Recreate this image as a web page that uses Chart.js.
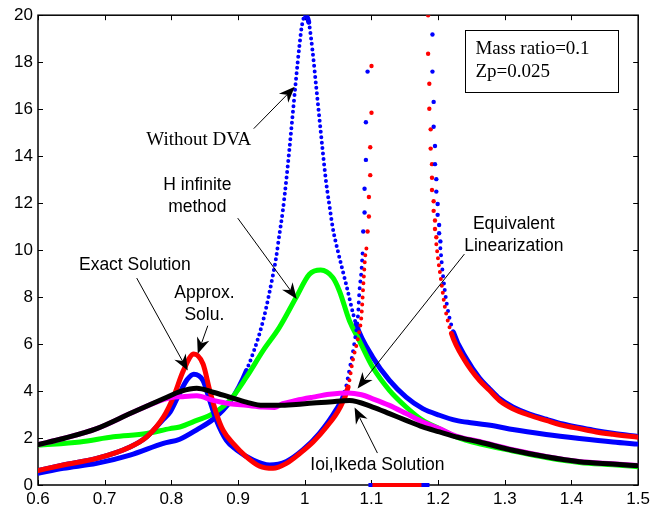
<!DOCTYPE html>
<html>
<head>
<meta charset="utf-8">
<script src="https://cdn.jsdelivr.net/npm/chart.js@4.4.0/dist/chart.umd.min.js"></script>
<style>
  html, body { margin: 0; padding: 0; background: #fff; }
  canvas { display: block; }
</style>
</head>
<body>
<canvas id="c" width="654" height="512"></canvas>
<script>
// frequency ratio (x) and amplitude (y)
const noDvaX = [0.6, 0.638, 0.688, 0.738, 0.788, 0.8126, 0.838, 0.8625, 0.8875, 0.9125, 0.9375, 0.9525, 0.957, 0.962, 0.967, 0.972, 0.977, 0.982, 0.987, 0.992, 0.996, 1.0013, 1.006, 1.012, 1.017, 1.022, 1.027, 1.032, 1.037, 1.042, 1.051, 1.062, 1.077, 1.102, 1.127, 1.152, 1.177, 1.202, 1.227, 1.252, 1.287, 1.312, 1.362, 1.412, 1.462, 1.5];
const noDvaY = [0.5, 0.71, 0.92, 1.27, 1.77, 1.95, 2.35, 2.8, 3.53, 4.87, 6.99, 8.97, 9.67, 10.67, 11.65, 12.9, 14.3, 15.8, 17.3, 18.7, 19.6, 20, 19.7, 18.4, 17.0, 15.6, 14.2, 12.9, 11.9, 10.95, 9.8, 8.55, 6.85, 5.44, 4.45, 3.74, 3.25, 2.97, 2.75, 2.64, 2.5, 2.36, 2.15, 1.98, 1.83, 1.74];

const exactX = [0.6, 0.638, 0.688, 0.738, 0.763, 0.788, 0.803, 0.818, 0.8336, 0.8475, 0.8575, 0.8675, 0.8775, 0.8925, 0.9125, 0.9325, 0.9525, 0.9725, 0.9925, 1.0125, 1.0325, 1.052, 1.065, 1.072, 1.08, 1.085, 1.088, 1.091, 1.0942, 1.14, 1.1973, 1.2, 1.205, 1.21, 1.22, 1.24, 1.262, 1.277, 1.292, 1.312, 1.337, 1.362, 1.387, 1.412, 1.437, 1.462, 1.5];
const exactY = [0.62, 0.85, 1.13, 1.62, 2.05, 2.89, 3.74, 4.87, 5.58, 5.15, 4.03, 3.04, 2.33, 1.77, 1.2, 0.8, 0.71, 0.92, 1.34, 1.83, 2.47, 3.25, 4.17, 5.3, 6.28, 7.2, 8.6, 9.84, 10.2, null, 10.25, 9.6, 8.6, 7.6, 6.45, 5.3, 4.45, 4.03, 3.6, 3.25, 2.97, 2.75, 2.54, 2.4, 2.26, 2.16, 2.03];
const exactSpikeX = [1.0942, 1.0962, 1.0962, 1.0982, 1.0982, 1.1001, 1.1001, 1.185, 1.185, 1.1868, 1.1868, 1.1888, 1.1888, 1.1908, 1.1908, 1.1908, 1.1933, 1.1933, 1.1953, 1.1953, 1.1973];
const exactSpikeY = [10.79, 11.43, 12.26, 13.19, 14.38, 15.85, 17.84, 20.0, 18.36, 17.08, 16.02, 15.14, 14.32, 13.66, 13.08, 12.56, 12.08, 11.67, 11.26, 10.9, 10.55];
const exactFloorX = [1.1015, 1.175];
const exactFloorY = [0, 0];

const approxX = [0.6, 0.638, 0.688, 0.738, 0.763, 0.788, 0.798, 0.813, 0.824, 0.8336, 0.8475, 0.8575, 0.8675, 0.8825, 0.8975, 0.9225, 0.9475, 0.9725, 0.9975, 1.022, 1.047, 1.06, 1.067, 1.075, 1.08, 1.082, 1.085, 1.087, 1.14, 1.2034, 1.207, 1.213, 1.223, 1.243, 1.262, 1.277, 1.292, 1.312, 1.337, 1.362, 1.387, 1.412, 1.437, 1.462, 1.5];
const approxY = [0.62, 0.85, 1.13, 1.62, 2.05, 2.8, 3.1, 3.95, 4.5, 4.72, 4.45, 3.6, 2.75, 1.9, 1.5, 1.06, 0.85, 1.0, 1.5, 2.2, 3.2, 3.95, 4.9, 6.14, 7.27, 8.26, 9.1, 10.0, null, 10.08, 9.0, 7.7, 6.5, 5.35, 4.55, 4.1, 3.68, 3.32, 3.02, 2.8, 2.6, 2.45, 2.31, 2.2, 2.07];
const approxSpikeX = [1.0877, 1.0897, 1.0897, 1.0917, 1.0917, 1.0942, 1.1915, 1.1915, 1.1933, 1.1933, 1.1953, 1.1953, 1.1973, 1.1973, 1.1993, 1.1993, 1.2015, 1.2015, 1.2034];
const approxSpikeY = [10.79, 11.6, 12.61, 13.84, 15.44, 17.6, 19.18, 17.6, 16.31, 15.25, 14.43, 13.66, 13.02, 12.49, 11.96, 11.5, 11.07, 10.72, 10.37];
const approxFloorX = [1.0955, 1.187];
const approxFloorY = [0, 0];

const hinfX = [0.6, 0.663, 0.713, 0.763, 0.798, 0.8126, 0.838, 0.8625, 0.8875, 0.9125, 0.9375, 0.962, 0.987, 1.007, 1.024, 1.042, 1.052, 1.067, 1.082, 1.102, 1.127, 1.152, 1.177, 1.202, 1.227, 1.262, 1.312, 1.362, 1.412, 1.462, 1.5];
const hinfY = [1.7, 1.83, 2.05, 2.19, 2.4, 2.47, 2.75, 3.04, 3.6, 4.59, 5.72, 6.71, 7.98, 8.97, 9.15, 8.83, 8.26, 6.99, 6.14, 5.01, 4.03, 3.32, 2.75, 2.4, 2.05, 1.75, 1.45, 1.17, 0.96, 0.86, 0.78];

const eqLinX = [0.6, 0.638, 0.688, 0.738, 0.775, 0.8, 0.815, 0.838, 0.8625, 0.8875, 0.9125, 0.9375, 0.955, 0.967, 0.987, 1.0125, 1.037, 1.065, 1.085, 1.102, 1.127, 1.152, 1.177, 1.202, 1.227, 1.262, 1.312, 1.362, 1.412, 1.462, 1.5];
const eqLinY = [1.72, 1.98, 2.4, 3.04, 3.5, 3.72, 3.76, 3.8, 3.6, 3.46, 3.39, 3.32, 3.3, 3.46, 3.6, 3.74, 3.86, 3.92, 3.84, 3.67, 3.39, 3.04, 2.68, 2.4, 2.08, 1.85, 1.5, 1.22, 1.0, 0.9, 0.83];

const ioiX = [0.6, 0.638, 0.688, 0.738, 0.788, 0.815, 0.838, 0.8625, 0.8875, 0.9125, 0.9375, 0.962, 0.987, 1.0125, 1.037, 1.067, 1.102, 1.127, 1.152, 1.177, 1.202, 1.227, 1.262, 1.312, 1.362, 1.412, 1.462, 1.5];
const ioiY = [1.72, 1.98, 2.4, 3.04, 3.67, 4.0, 4.12, 3.95, 3.74, 3.53, 3.39, 3.39, 3.43, 3.49, 3.53, 3.6, 3.32, 3.04, 2.75, 2.47, 2.26, 2.05, 1.83, 1.48, 1.2, 0.99, 0.89, 0.82];

const boxLines = ['Mass ratio=0.1', 'Zp=0.025'];

// text labels with arrows, placed in data coordinates
const notes = [
  { lines: ['Without DVA'], serif: true, at: [0.841, 14.7], from: [0.9235, 15.17], to: [0.985, 16.95] },
  { lines: ['H infinite', 'method'], at: [0.839, 12.75], from: [0.8995, 11.36], to: [0.988, 7.92] },
  { lines: ['Exact Solution'], at: [0.7453, 9.36], from: [0.748, 8.81], to: [0.8246, 4.87] },
  { lines: ['Approx.', 'Solu.'], at: [0.8495, 8.18], from: [0.8546, 6.78], to: [0.8396, 5.59] },
  { lines: ['Equivalent', 'Linearization'], at: [1.3135, 11.1], from: [1.2394, 9.83], to: [1.0792, 4.11] },
  { lines: ['Ioi,Ikeda Solution'], at: [1.109, 0.85], from: [1.109, 1.36], to: [1.0747, 3.3] }
];

function pts(xs, ys) {
  return xs.map((x, i) => ({ x: x, y: ys[i] }));
}

// the markers only separate into dots where the curve is steep
function curve(data, color, order, gap, ratio, fromX) {
  const steep = ctx => data[ctx.p0DataIndex].x >= fromX &&
    Math.abs(ctx.p1.y - ctx.p0.y) > ratio * Math.abs(ctx.p1.x - ctx.p0.x);
  return {
    data: data,
    borderColor: color,
    backgroundColor: color,
    borderWidth: 5,
    borderCapStyle: 'round',
    borderJoinStyle: 'round',
    pointRadius: 0,
    cubicInterpolationMode: 'monotone',
    spanGaps: false,
    showLine: true,
    order: order,
    segment: {
      borderDash: ctx => steep(ctx) ? [0, gap] : undefined,
      borderWidth: ctx => steep(ctx) ? 4 : undefined
    }
  };
}

function dots(data, color, order) {
  return {
    data: data,
    showLine: false,
    pointRadius: 2.2,
    pointBorderWidth: 0,
    pointBackgroundColor: color,
    order: order
  };
}

function floorLine(data, color, order) {
  return {
    data: data,
    showLine: true,
    borderColor: color,
    borderWidth: 4,
    pointRadius: 0,
    order: order,
    clip: { left: 0, top: 0, right: 0, bottom: 3 }
  };
}

function drawArrow(ctx, x0, y0, x1, y1) {
  const a = Math.atan2(y1 - y0, x1 - x0);
  const ux = Math.cos(a), uy = Math.sin(a);
  const L = 16, W = 6.5, N = 11;
  ctx.beginPath();
  ctx.moveTo(x0, y0);
  ctx.lineTo(x1 - N * ux, y1 - N * uy);
  ctx.stroke();
  ctx.beginPath();
  ctx.moveTo(x1, y1);
  ctx.lineTo(x1 - L * ux - W * uy, y1 - L * uy + W * ux);
  ctx.lineTo(x1 - N * ux, y1 - N * uy);
  ctx.lineTo(x1 - L * ux + W * uy, y1 - L * uy - W * ux);
  ctx.closePath();
  ctx.fill();
}

const frame = {
  id: 'frame',
  beforeDatasetsDraw(chart) {
    const { ctx, chartArea: a, scales: { x, y } } = chart;
    ctx.save();
    ctx.strokeStyle = '#000';
    ctx.lineWidth = 1.5;
    ctx.strokeRect(a.left, a.top, a.right - a.left, a.bottom - a.top);
    ctx.lineWidth = 1;
    ctx.beginPath();
    x.ticks.forEach(t => {
      const px = Math.round(x.getPixelForValue(t.value)) + 0.5;
      ctx.moveTo(px, a.bottom); ctx.lineTo(px, a.bottom - 5);
      ctx.moveTo(px, a.top); ctx.lineTo(px, a.top + 5);
    });
    y.ticks.forEach(t => {
      const py = Math.round(y.getPixelForValue(t.value)) + 0.5;
      ctx.moveTo(a.left, py); ctx.lineTo(a.left + 5, py);
      ctx.moveTo(a.right, py); ctx.lineTo(a.right - 5, py);
    });
    ctx.stroke();
    ctx.restore();
  },
  afterDatasetsDraw(chart) {
    const { ctx, scales: { x, y } } = chart;
    ctx.save();
    ctx.fillStyle = '#000';
    ctx.strokeStyle = '#000';
    ctx.lineWidth = 1;
    ctx.textAlign = 'center';
    ctx.textBaseline = 'middle';
    notes.forEach(n => {
      ctx.font = n.serif ? '19px "Liberation Serif"' : '17.5px "Liberation Sans"';
      const cx = x.getPixelForValue(n.at[0]);
      const cy = y.getPixelForValue(n.at[1]);
      n.lines.forEach((s, i) => ctx.fillText(s, cx, cy + i * 22));
      drawArrow(ctx, x.getPixelForValue(n.from[0]), y.getPixelForValue(n.from[1]),
        x.getPixelForValue(n.to[0]), y.getPixelForValue(n.to[1]));
    });
    // parameter box
    const bx0 = x.getPixelForValue(1.241), bx1 = x.getPixelForValue(1.4704);
    const by0 = y.getPixelForValue(19.38), by1 = y.getPixelForValue(16.75);
    ctx.fillStyle = '#fff';
    ctx.fillRect(bx0, by0, bx1 - bx0, by1 - by0);
    ctx.strokeRect(Math.round(bx0) + 0.5, Math.round(by0) + 0.5, Math.round(bx1 - bx0), Math.round(by1 - by0));
    ctx.fillStyle = '#000';
    ctx.textAlign = 'left';
    ctx.font = '19px "Liberation Serif"';
    boxLines.forEach((s, i) => ctx.fillText(s, bx0 + 10, by0 + 19 + i * 23));
    ctx.restore();
  }
};

new Chart(document.getElementById('c'), {
  type: 'scatter',
  data: {
    datasets: [
      curve(pts(noDvaX, noDvaY), '#0000ff', 9, 5.5, 2.5, 0),
      curve(pts(hinfX, hinfY), '#00ff00', 8, 6, 4.2, 0),
      floorLine(pts(approxFloorX, approxFloorY), '#0000ff', 7),
      floorLine(pts(exactFloorX, exactFloorY), '#ff0000', 6),
      curve(pts(approxX, approxY), '#0000ff', 5, 7, 2.5, 1.04),
      curve(pts(exactX, exactY), '#ff0000', 4, 7, 2.5, 1.04),
      dots(pts(approxSpikeX, approxSpikeY), '#0000ff', 3),
      dots(pts(exactSpikeX, exactSpikeY), '#ff0000', 3),
      curve(pts(eqLinX, eqLinY), '#ff00ff', 2, 6, 4.2, 0),
      curve(pts(ioiX, ioiY), '#000000', 1, 6, 4.2, 0)
    ]
  },
  options: {
    responsive: false,
    animation: false,
    layout: { padding: { top: 13, right: 15, left: 0, bottom: 0 } },
    plugins: { legend: { display: false }, tooltip: { enabled: false } },
    scales: {
      x: {
        type: 'linear',
        min: 0.6,
        max: 1.5,
        grid: { display: false, drawTicks: false },
        border: { display: false },
        ticks: {
          stepSize: 0.1,
          padding: 4,
          color: '#000',
          font: { family: 'Liberation Sans', size: 17 },
          callback: v => String(Math.round(v * 10) / 10)
        },
        afterFit: s => { s.height = 27; }
      },
      y: {
        min: 0,
        max: 20,
        grid: { display: false, drawTicks: false },
        border: { display: false },
        ticks: {
          stepSize: 2,
          padding: 5,
          color: '#000',
          font: { family: 'Liberation Sans', size: 17 }
        },
        afterFit: s => { s.width = 38; }
      }
    }
  },
  plugins: [frame]
});
</script>
</body>
</html>
